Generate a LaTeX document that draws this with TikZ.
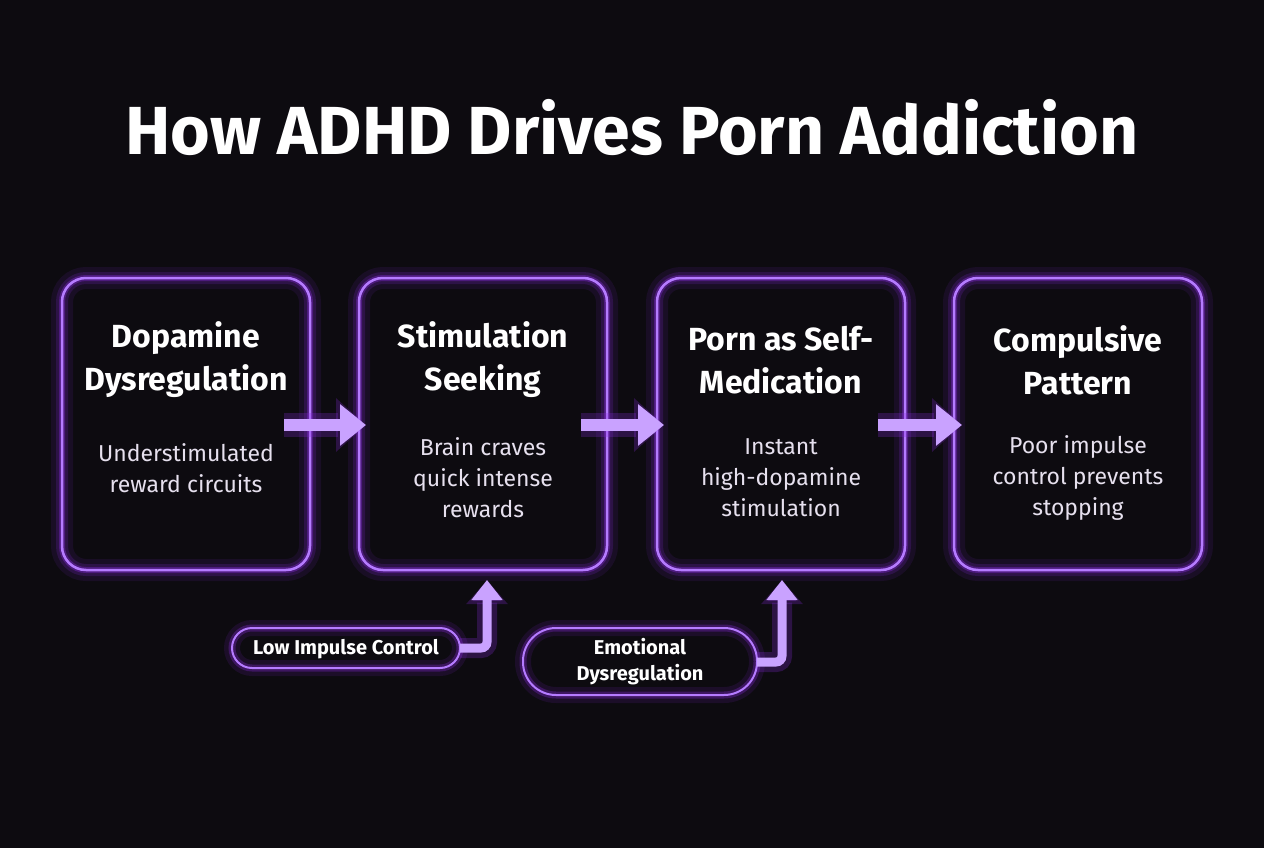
\documentclass[tikz,border=0pt]{standalone}
\usepackage{fontspec}
\setmainfont{Fira Sans}
\usetikzlibrary{arrows.meta}
\definecolor{bg}{HTML}{0D0B10}
\definecolor{edge}{HTML}{B57BFF}
\definecolor{glow}{HTML}{8A2BE2}
\definecolor{arr}{HTML}{C9A2FF}
\definecolor{body}{HTML}{E6E0EE}
\tikzset{
 glowbox/.style={rounded corners=24pt, draw=edge, line width=2.5pt,
   preaction={draw=glow, line width=22pt, opacity=0.10},
   preaction={draw=glow, line width=12pt, opacity=0.18},
   preaction={draw=glow, line width=6pt, opacity=0.35}},
 pill/.style={rounded corners=#1, draw=edge, line width=2pt,
   preaction={draw=glow, line width=16pt, opacity=0.12, rounded corners=#1},
   preaction={draw=glow, line width=7pt, opacity=0.3, rounded corners=#1}},
 flow/.style={draw=arr, line width=12pt, -{Triangle[length=26pt,width=40pt]},
   preaction={draw=glow, line width=24pt, opacity=0.25, -{Triangle[length=30pt,width=52pt]}}},
 side/.style={draw=arr, line width=9pt, rounded corners=6pt, -{Triangle[length=20pt,width=30pt]},
   preaction={draw=glow, line width=20pt, opacity=0.25, rounded corners=6pt, -{Triangle[length=24pt,width=40pt]}}},
 head/.style={text=white, font=\bfseries\fontsize{32}{43}\selectfont, align=center},
 txt/.style={text=body, font=\fontsize{23}{31}\selectfont, align=center},
 ptxt/.style={text=white, font=\bfseries\fontsize{20}{26}\selectfont, align=center},
}
\begin{document}
\begin{tikzpicture}[x=1pt,y=-1pt]
\fill[bg] (0,0) rectangle (1264,848);
\useasboundingbox (0,0) rectangle (1264,848);
\node[text=white, font=\bfseries\fontsize{68}{72}\selectfont] (title) at (632,128) {How ADHD Drives Porn Addiction};
% boxes
\foreach \n/\x in {b1/62,b2/359,b3/657,b4/954}{
  \path[glowbox] (\x,278) rectangle ++(248,292);
  \coordinate (\n) at (\x+124,424);
}
\node[head] (h1) at (186,360) {Dopamine\\Dysregulation};
\node[txt] (t1) at (186,468) {Understimulated\\reward circuits};
\node[head] (h2) at (483,360) {Stimulation\\Seeking};
\node[txt] (t2) at (483,478) {Brain craves\\quick intense\\rewards};
\node[head] (h3) at (781,360) {Porn as Self-\\Medication};
\node[txt] (t3) at (781,478) {Instant\\high-dopamine\\stimulation};
\node[head] (h4) at (1078,360) {Compulsive\\Pattern};
\node[txt] (t4) at (1078,478) {Poor impulse\\control prevents\\stopping};
% flow arrows
\coordinate (a1s) at (284,425); \coordinate (a1e) at (366,425);
\coordinate (a2s) at (581,425); \coordinate (a2e) at (664,425);
\coordinate (a3s) at (878,425); \coordinate (a3e) at (962,425);
\draw[flow] (a1s) -- (a1e);
\draw[flow] (a2s) -- (a2e);
\draw[flow] (a3s) -- (a3e);
% pills
\path[pill=20pt] (232,628) rectangle (460,668);
\node[ptxt] (p1) at (346,649) {Low Impulse Control};
\path[pill=33pt] (523,628) rectangle (757,695);
\node[ptxt] (p2) at (640,662) {Emotional\\Dysregulation};
\coordinate (p1r) at (460,648); \coordinate (p1t) at (487,580);
\coordinate (p2r) at (757,662); \coordinate (p2t) at (782,580);
\draw[side] (p1r) -- (p1t |- p1r) -- (p1t);
\draw[side] (p2r) -- (p2t |- p2r) -- (p2t);
\end{tikzpicture}
\end{document}
